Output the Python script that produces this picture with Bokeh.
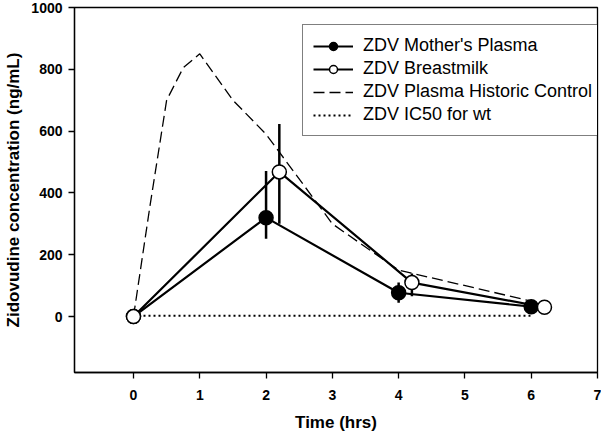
from bokeh.plotting import figure
from bokeh.models import Range1d, Legend, LegendItem, FixedTicker
from bokeh.embed import file_html
from bokeh.resources import INLINE

# Data
mp_time = [0, 2, 4, 6]
mp_conc = [0, 320, 77, 32]
mp_lower = [0, 252, 45, 32]
mp_upper = [0, 471, 110, 32]

bm_time = [0, 2.2, 4.2, 6.2]
bm_conc = [0, 468, 110, 30]
bm_lower = [0, 300, 66, 30]
bm_upper = [0, 623, 139, 30]

hist_time = [0, 0.25, 0.5, 0.75, 1, 1.5, 2, 3, 4, 6]
hist_conc = [0, 360, 700, 805, 850, 700, 590, 300, 150, 50]

ic50_time = [0, 6]
ic50_conc = [3, 3]

x_ticks = [0, 1, 2, 3, 4, 5, 6, 7]
y_ticks = [0, 200, 400, 600, 800, 1000]

FONT = "Liberation Sans"

p = figure(width=601, height=434, output_backend="svg", toolbar_location=None,
           x_range=Range1d(-0.89, 7), y_range=Range1d(-181, 1000),
           min_border_left=74, min_border_right=4, min_border_top=7, min_border_bottom=62)
p.grid.visible = False
p.outline_line_color = "black"
p.outline_line_width = 1.3
p.background_fill_color = "white"
p.border_fill_color = "white"

for ax in (p.xaxis[0], p.yaxis[0]):
    ax.axis_line_width = 1.3
    ax.major_tick_line_width = 1.3
    ax.major_tick_out = 6
    ax.major_tick_in = 0
    ax.minor_tick_out = 0
    ax.minor_tick_in = 0
    ax.major_label_text_font = FONT
    ax.major_label_text_font_style = "bold"
    ax.major_label_text_font_size = "14px"
    ax.major_label_text_color = "black"
    ax.axis_label_text_font = FONT
    ax.axis_label_text_font_style = "bold"
    ax.axis_label_text_font_size = "17px"
    ax.axis_label_text_color = "black"

p.xaxis.ticker = FixedTicker(ticks=x_ticks)
p.yaxis.ticker = FixedTicker(ticks=y_ticks)
p.xaxis.axis_label = "Time (hrs)"
p.yaxis.axis_label = "Zidovudine concentration (ng/mL)"
p.xaxis.major_label_standoff = 11
p.xaxis.axis_label_standoff = 10
p.yaxis.major_label_standoff = 6
p.yaxis.axis_label_standoff = 5

r_ic50 = p.line(ic50_time, ic50_conc, line_color="black", line_width=2, line_dash="2 3")
r_hist = p.line(hist_time, hist_conc, line_color="black", line_width=1.3, line_dash="11 5")

r_mp_line = p.line(mp_time, mp_conc, line_color="black", line_width=2.2)
r_bm_line = p.line(bm_time, bm_conc, line_color="black", line_width=2.2)

p.segment(x0=mp_time, y0=mp_lower, x1=mp_time, y1=mp_upper, line_color="black", line_width=2.5)
p.segment(x0=bm_time, y0=bm_lower, x1=bm_time, y1=bm_upper, line_color="black", line_width=2.5)

r_mp_pts = p.scatter(mp_time, mp_conc, size=14, fill_color="black", line_color="black", line_width=1.5)
r_bm_pts = p.scatter(bm_time, bm_conc, size=14, fill_color="white", line_color="black", line_width=1.5)

legend = Legend(items=[
    LegendItem(label="ZDV Mother's Plasma", renderers=[r_mp_line, r_mp_pts]),
    LegendItem(label="ZDV Breastmilk", renderers=[r_bm_line, r_bm_pts]),
    LegendItem(label="ZDV Plasma Historic Control", renderers=[r_hist]),
    LegendItem(label="ZDV IC50 for wt", renderers=[r_ic50]),
], location=(228, 236))
legend.label_text_font = FONT
legend.label_text_font_size = "18px"
legend.label_text_color = "black"
legend.glyph_width = 40
legend.glyph_height = 20
legend.label_height = 20
legend.label_standoff = 10
legend.spacing = 2
legend.padding = 10
legend.margin = 0
legend.border_line_color = "black"
legend.border_line_width = 1.5
legend.background_fill_alpha = 1
legend.background_fill_color = "white"
p.add_layout(legend)

open("out.html", "w").write(file_html(p, INLINE))
